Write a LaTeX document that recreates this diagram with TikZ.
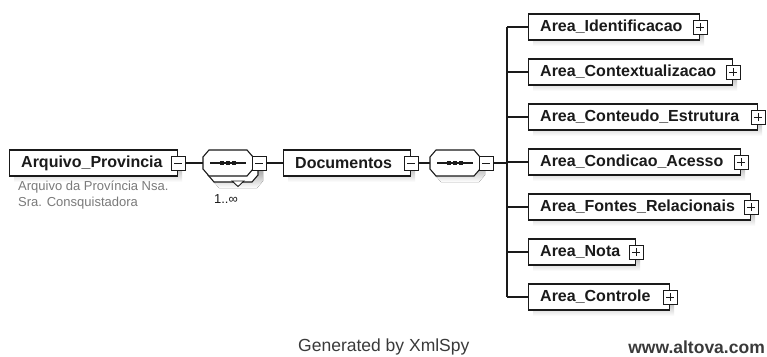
\documentclass[tikz,border=0pt]{standalone}
\usepackage{fontspec}
\setmainfont{Liberation Sans}
\usetikzlibrary{calc}

\definecolor{ink}{HTML}{1A1A1A}
\definecolor{shade}{HTML}{C4C4C4}
\definecolor{desc}{HTML}{7A7A7A}
\definecolor{foot}{HTML}{3A3A3A}

\tikzset{
  elembox/.style={draw=ink, fill=white, line width=1.1pt, minimum height=26pt, inner sep=0pt, anchor=west},
  elemtext/.style={anchor=west, font=\bfseries\fontsize{16}{19}\selectfont, text=ink, inner sep=0pt},
  expander/.style={draw=ink, fill=white, line width=0.9pt, minimum size=14pt, inner sep=0pt},
  signline/.style={draw=ink, line width=0.9pt},
  wire/.style={draw=ink, line width=1.1pt},
  compbox/.style={inner sep=0pt, minimum height=26pt, anchor=west},
  octline/.style={draw=ink, line width=1.1pt, fill=white},
}

% element: name, left x, centre y, right x, label, 1 = collapsed (plus) / 0 = expanded (minus)
\newcommand{\xsElement}[6]{%
  \fill[shade] (#2+5,#3-7) rectangle (#4+5,#3+19);
  \node[elembox, minimum width={#4pt-#2pt}] (#1) at (#2,#3) {};
  \node[elemtext] (#1-t) at (#2+12,#3) {#5};
  \node[expander] (#1-x) at (#1.east) {};
  \draw[signline] ([xshift=-4pt]#1-x.center) -- ([xshift=4pt]#1-x.center);
  \ifnum#6=1 \draw[signline] ([yshift=-4pt]#1-x.center) -- ([yshift=4pt]#1-x.center);\fi
}

% octagon outline of a compositor: left x, right x, centre y
\newcommand{\xsOctagon}[3]{(#1,#3-6) -- (#1+6,#3-13) -- (#2-6,#3-13) -- (#2,#3-6) -- (#2,#3+6) -- (#2-6,#3+13) -- (#1+6,#3+13) -- (#1,#3+6) -- cycle}

% sequence compositor: name, left x, right x, centre y
\newcommand{\xsSequence}[4]{%
  \node[compbox, minimum width={#3pt-#2pt}] (#1) at (#2,#4) {};
  \draw[octline] \xsOctagon{#2}{#3}{#4};
  \draw[ink, line width=1.1pt] (#2+7,#4) -- (#3-7,#4);
  \foreach \d in {-6,0,6} {\fill[ink] ($(#1.center)+(\d-1.8,-1.8)$) rectangle ++(3.6,3.6);}
  \node[expander] (#1-x) at (#3+6,#4) {};
  \draw[signline] ([xshift=-4pt]#1-x.center) -- ([xshift=4pt]#1-x.center);
}

\begin{document}
\begin{tikzpicture}[x=1pt, y=-1pt]
\useasboundingbox[fill=white] (0,0) rectangle (767,356);

% root element
\xsElement{arq}{9}{163}{177}{Arquivo\_Provincia}{0}
\node[anchor=north west, align=left, inner sep=0pt, text=desc,
      font=\fontsize{13}{16}\selectfont] (arqdesc) at (18,181)
  {Arquivo da Província Nsa.\\Sra. Consquistadora};

% first sequence, repeated 1..unbounded: a stacked copy behind it
\fill[shade] \xsOctagon{213}{263}{175};
\draw[octline] \xsOctagon{208}{258}{169};
\xsSequence{seqa}{203}{253}{163}
\draw[ink, line width=0.9pt, fill=white] (232,181) -- (244,181) -- (238,186.5) -- cycle;
\node[font=\fontsize{13}{15}\selectfont, text=ink, inner sep=0pt] (mult) at (226,199) {1..∞};

% Documentos and the inner sequence
\xsElement{doc}{283}{163}{410}{Documentos}{0}
\fill[shade] \xsOctagon{435}{485}{169};
\xsSequence{seqb}{430}{480}{163}

% children of the inner sequence
\coordinate (bus) at (507,163);
\xsElement{a1}{528}{27}{699}{Area\_Identificacao}{1}
\xsElement{a2}{528}{72}{732}{Area\_Contextualizacao}{1}
\xsElement{a3}{528}{117}{757}{Area\_Conteudo\_Estrutura}{1}
\xsElement{a4}{528}{162}{740}{Area\_Condicao\_Acesso}{1}
\xsElement{a5}{528}{207}{750}{Area\_Fontes\_Relacionais}{1}
\xsElement{a6}{528}{252}{635}{Area\_Nota}{1}
\xsElement{a7}{528}{297}{669}{Area\_Controle}{1}

% connectors
\draw[wire] (arq-x.east) -- (seqa.west);
\draw[wire] (seqa-x.east) -- (doc.west);
\draw[wire] (doc-x.east) -- (seqb.west);
\draw[wire] (seqb-x.east) -- (bus);
\draw[wire] (bus |- a1.west) -- (bus |- a7.west);
\foreach \k in {a1,a2,a3,a4,a5,a6,a7} {\draw[wire] (bus |- \k.west) -- (\k.west);}

% footer
\node[anchor=west, inner sep=0pt, text=foot, font=\fontsize{17.5}{20}\selectfont] (gen) at (298,347) {Generated by XmlSpy};
\node[anchor=east, inner sep=0pt, text=foot, font=\bfseries\fontsize{17.5}{20}\selectfont] (site) at (765,347) {www.altova.com};
\end{tikzpicture}
\end{document}
